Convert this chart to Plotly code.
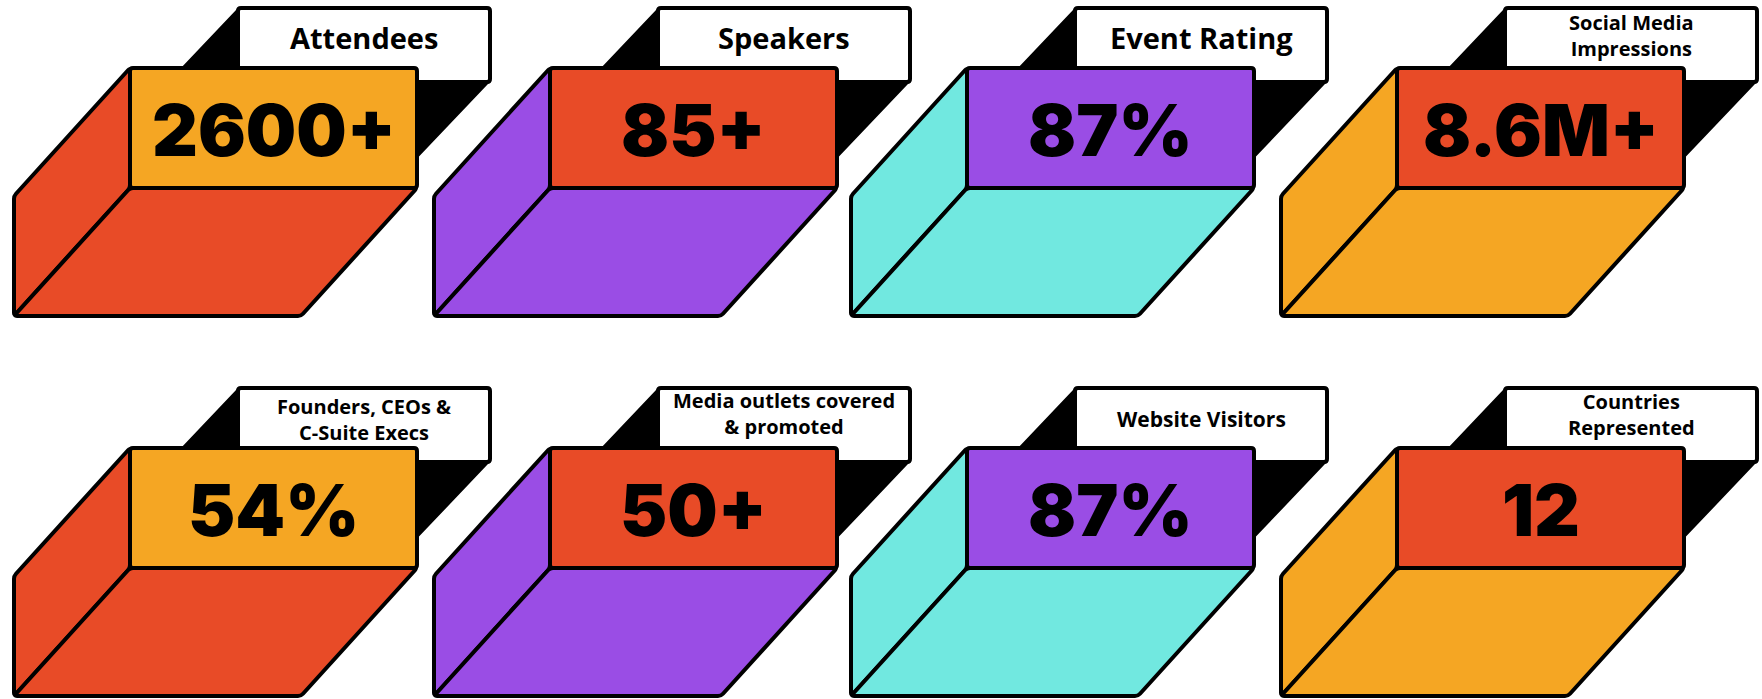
import plotly.graph_objects as go

# ---- data ----
values = ["2600+", "85+", "87%", "8.6M+", "54%", "50+", "87%", "12"]
labels = ["Attendees", "Speakers", "Event Rating", "Social Media<br>Impressions",
          "Founders, CEOs &<br>C-Suite Execs", "Media outlets covered<br>& promoted",
          "Website Visitors", "Countries<br>Represented"]

# ---- styles ----
ORANGE = "#F5A623"
RED = "#E84B27"
PURPLE = "#9A4DE5"
CYAN = "#71E8E0"
front_colors = [ORANGE, RED, PURPLE, RED, ORANGE, RED, PURPLE, RED]
side_colors = [RED, PURPLE, CYAN, ORANGE, RED, PURPLE, CYAN, ORANGE]
label_sizes = [29, 29, 29, 20, 20, 20, 21, 20]
label_mid = [-30.5, -30.5, -30.5, -33, -29, -34.5, -29.5, -34]

# ---- layout geometry ----
W, H = 1762, 699
col_x = [130, 550, 967, 1397]
row_y = [68, 448]
FW, FH = 287, 120
DX, DY = -116, 128
S = 1.05          # label shadow slope
LINE = 4


def rounded_path(pts, r=3.0):
    n = len(pts)
    segs = []
    for i in range(n):
        p0 = pts[i - 1]
        p1 = pts[i]
        p2 = pts[(i + 1) % n]
        v1 = (p0[0] - p1[0], p0[1] - p1[1])
        v2 = (p2[0] - p1[0], p2[1] - p1[1])
        l1 = (v1[0] ** 2 + v1[1] ** 2) ** 0.5
        l2 = (v2[0] ** 2 + v2[1] ** 2) ** 0.5
        rr = min(r, l1 / 2, l2 / 2)
        a = (p1[0] + v1[0] / l1 * rr, p1[1] + v1[1] / l1 * rr)
        b = (p1[0] + v2[0] / l2 * rr, p1[1] + v2[1] / l2 * rr)
        segs.append((a, p1, b))
    d = "M %.2f,%.2f " % segs[0][2]
    for i in range(1, n + 1):
        a, c, b = segs[i % n]
        d += "L %.2f,%.2f Q %.2f,%.2f %.2f,%.2f " % (a[0], a[1], c[0], c[1], b[0], b[1])
    return d + "Z"


shapes = []
annotations = []


def poly(pts, fill, line=True, r=3.0):
    shapes.append(dict(type="path", xref="x", yref="y", path=rounded_path(pts, r),
                       fillcolor=fill, layer="above",
                       line=dict(color="black", width=LINE if line else 0)))


for i, (val, lab) in enumerate(zip(values, labels)):
    fx = col_x[i % 4]
    fy = row_y[i // 4]
    fr = fx + FW
    fb = fy + FH
    lx0, lx1 = fx + 108, fx + 360
    ly0, ly1 = fy - 60, fy + 14

    # label shadow
    xl = lx0 - (fy + 10 - ly0) / S
    shadow = [(lx0, ly0), (lx1, ly0), (lx1, ly1),
              (fr, ly1 + (lx1 - fr) * S), (fr - 10, fy + 10), (xl, fy + 10)]
    poly(shadow, "black", line=False, r=0.5)
    # label box
    poly([(lx0, ly0), (lx1, ly0), (lx1, ly1), (lx0, ly1)], "white")
    # left wall
    poly([(fx, fy), (fx + DX, fy + DY), (fx + DX, fb + DY), (fx, fb)], side_colors[i])
    # floor
    poly([(fx, fb), (fr, fb), (fr + DX, fb + DY), (fx + DX, fb + DY)], side_colors[i])
    # front
    poly([(fx, fy), (fr, fy), (fr, fb), (fx, fb)], front_colors[i])

    annotations.append(dict(x=fx + FW / 2, y=fy + 62, xref="x", yref="y", text=val,
                            showarrow=False, xanchor="center", yanchor="middle",
                            font=dict(family="Inter", size=71, weight=900, color="black")))
    annotations.append(dict(x=(lx0 + lx1) / 2, y=fy + label_mid[i], xref="x", yref="y",
                            text=lab, showarrow=False, xanchor="center", yanchor="middle",
                            align="center",
                            font=dict(family="Open Sans", size=label_sizes[i],
                                      weight=700, color="black")))

fig = go.Figure()
fig.add_trace(go.Scatter(x=[0, W], y=[0, H], mode="markers",
                         marker=dict(opacity=0), hoverinfo="skip", showlegend=False))
fig.update_layout(
    width=W, height=H, margin=dict(l=0, r=0, t=0, b=0),
    paper_bgcolor="white", plot_bgcolor="white",
    xaxis=dict(range=[0, W], visible=False, fixedrange=True),
    yaxis=dict(range=[H, 0], visible=False, fixedrange=True),
    shapes=shapes, annotations=annotations, showlegend=False,
)
fig.write_html("out.html", config={"displayModeBar": False},
               post_script="document.body.style.margin='0';document.body.style.overflow='hidden';")
